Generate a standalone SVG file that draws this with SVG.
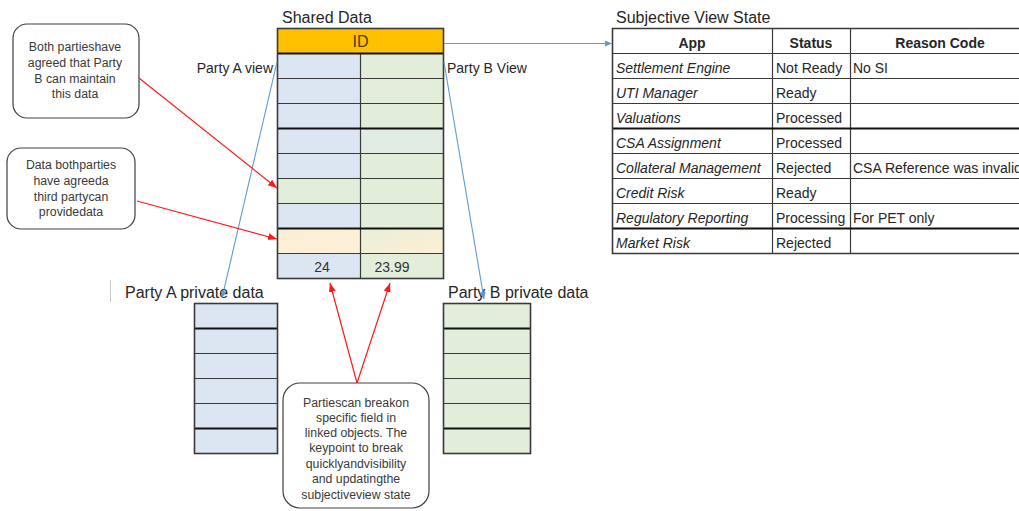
<svg xmlns="http://www.w3.org/2000/svg" width="1019" height="511" viewBox="0 0 1019 511">
<defs>
<style>
text{font-family:"Liberation Sans",Arial,sans-serif;fill:#262626}
.title{font-size:16px}
.lbl{font-size:14px}
.call{font-size:12.3px;fill:#3a3a3a;text-anchor:middle}
.box{fill:#fff;stroke:#404040;stroke-width:1.2}
.blue{fill:#dce6f2}
.green{fill:#e2eed9}
.grid{stroke:#3a3a3a;stroke-width:1.2;fill:none}
.thick{stroke:#111;stroke-width:2.2;fill:none}
.outline{fill:none;stroke:#3a3a3a;stroke-width:1.6}
.th{font-size:14px;font-weight:bold;text-anchor:middle}
.app{font-size:14px;font-style:italic}
.cell{font-size:14px}
.bl{stroke:#5b9bd5;stroke-width:1.1;fill:none}
.rd{stroke:#ff1a1a;stroke-width:1.2;fill:none}
</style>
<marker id="ab" markerWidth="8" markerHeight="8" refX="7" refY="4" orient="auto" markerUnits="userSpaceOnUse"><path d="M0,1 L7,4 L0,7 Z" fill="#5b9bd5"/></marker>
<marker id="ar" markerWidth="10" markerHeight="10" refX="9" refY="5" orient="auto" markerUnits="userSpaceOnUse"><path d="M0,1.5 L9,5 L0,8.5 Z" fill="#ff1a1a"/></marker>
<linearGradient id="yel" x1="0" y1="0" x2="1" y2="1"><stop offset="0" stop-color="#f8eed7"/><stop offset="0.5" stop-color="#fdf0d4"/><stop offset="1" stop-color="#fbefd6"/></linearGradient>
<linearGradient id="yel2" x1="0" y1="0" x2="1" y2="1"><stop offset="0" stop-color="#e8efd8"/><stop offset="0.6" stop-color="#f6efd6"/><stop offset="1" stop-color="#fdf0d4"/></linearGradient>
</defs>

<g id="shared-data">
<text class="title" x="282" y="23">Shared Data</text>
<rect x="277.5" y="28.5" width="166" height="25" fill="#ffc000"/>
<text x="360.5" y="47" font-size="16" text-anchor="middle" style="fill:#4a3c00">ID</text>
<rect class="blue" x="277.5" y="53.5" width="83" height="225"/>
<rect class="green" x="360.5" y="53.5" width="83" height="225"/>
<rect x="360.5" y="128.5" width="83" height="25" fill="#e0ebe2"/>
<rect class="green" x="277.5" y="178.5" width="83" height="25"/>
<rect x="277.5" y="228.5" width="83" height="25" fill="url(#yel)"/>
<rect x="360.5" y="228.5" width="83" height="25" fill="url(#yel2)"/>
<path class="grid" d="M277.5,78.5H443.5M277.5,103.5H443.5M277.5,153.5H443.5M277.5,178.5H443.5M277.5,203.5H443.5M277.5,253.5H443.5M360.5,53.5V278.5"/>
<path class="thick" d="M277.5,53.5H443.5M277.5,128.5H443.5M277.5,228.5H443.5"/>
<rect class="outline" x="277.5" y="28.5" width="166" height="250"/>
<text class="cell" x="322" y="272" text-anchor="middle" style="fill:#333">24</text>
<text class="cell" x="392" y="272" text-anchor="middle" style="fill:#333">23.99</text>
</g>

<g id="party-a-view-label"><text class="lbl" x="273" y="73" text-anchor="end">Party A view</text></g>
<g id="party-b-view-label"><text class="lbl" x="447" y="73">Party B View</text></g>

<g id="subjective-view-state">
<text class="title" x="616" y="23">Subjective View State</text>
<rect x="612.5" y="28.5" width="420" height="225" fill="#fff"/>
<path class="grid" d="M612.5,53.5H1032M612.5,78.5H1032M612.5,103.5H1032M612.5,153.5H1032M612.5,178.5H1032M612.5,203.5H1032M772.5,28.5V253.5M850.5,28.5V253.5"/>
<path class="thick" d="M612.5,128.5H1032M612.5,228.5H1032"/>
<path class="outline" d="M1032,28.5H612.5V253.5H1032"/>
<text class="th" x="692" y="48">App</text>
<text class="th" x="811" y="48">Status</text>
<text class="th" x="940" y="48">Reason Code</text>
<text class="app" x="616" y="73">Settlement Engine</text>
<text class="app" x="616" y="98">UTI Manager</text>
<text class="app" x="616" y="123">Valuations</text>
<text class="app" x="616" y="148">CSA Assignment</text>
<text class="app" x="616" y="173">Collateral Management</text>
<text class="app" x="616" y="198">Credit Risk</text>
<text class="app" x="616" y="223">Regulatory Reporting</text>
<text class="app" x="616" y="248">Market Risk</text>
<text class="cell" x="776" y="73">Not Ready</text>
<text class="cell" x="776" y="98">Ready</text>
<text class="cell" x="776" y="123">Processed</text>
<text class="cell" x="776" y="148">Processed</text>
<text class="cell" x="776" y="173">Rejected</text>
<text class="cell" x="776" y="198">Ready</text>
<text class="cell" x="776" y="223">Processing</text>
<text class="cell" x="776" y="248">Rejected</text>
<text class="cell" x="853" y="73">No SI</text>
<text class="cell" x="853" y="173">CSA Reference was invalid</text>
<text class="cell" x="853" y="223">For PET only</text>
</g>

<g id="party-a-private-data">
<line x1="110.5" y1="280" x2="110.5" y2="302" stroke="#c8c8c8" stroke-width="1"/>
<text class="title" x="125" y="298">Party A private data</text>
<rect class="blue" x="194.5" y="303.5" width="83" height="150"/>
<path class="grid" d="M194.5,353.5H277.5M194.5,378.5H277.5M194.5,403.5H277.5"/>
<path class="thick" d="M194.5,328.5H277.5M194.5,428.5H277.5"/>
<rect class="outline" x="194.5" y="303.5" width="83" height="150"/>
</g>

<g id="party-b-private-data">
<text class="title" x="448" y="298">Party B private data</text>
<rect class="green" x="443.5" y="303.5" width="87" height="150"/>
<path class="grid" d="M443.5,353.5H530.5M443.5,378.5H530.5M443.5,403.5H530.5"/>
<path class="thick" d="M443.5,328.5H530.5M443.5,428.5H530.5"/>
<rect class="outline" x="443.5" y="303.5" width="87" height="150"/>
</g>

<g id="callout-party-b-maintain">
<rect class="box" x="13" y="24" width="126" height="94" rx="14"/>
<text class="call" x="75" y="51">Both partieshave</text>
<text class="call" x="75" y="67">agreed that Party</text>
<text class="call" x="75" y="83">B can maintain</text>
<text class="call" x="75" y="98">this data</text>
</g>

<g id="callout-third-party">
<rect class="box" x="7" y="148" width="128" height="81" rx="14"/>
<text class="call" x="71" y="169">Data bothparties</text>
<text class="call" x="71" y="185">have agreeda</text>
<text class="call" x="71" y="201">third partycan</text>
<text class="call" x="71" y="216">providedata</text>
</g>

<g id="callout-break">
<rect class="box" x="283" y="383" width="146" height="125" rx="17"/>
<text class="call" x="356" y="407">Partiescan breakon</text>
<text class="call" x="356" y="422">specific field in</text>
<text class="call" x="356" y="437">linked objects. The</text>
<text class="call" x="356" y="452">keypoint to  break</text>
<text class="call" x="356" y="468">quicklyandvisibility</text>
<text class="call" x="356" y="483">and updatingthe</text>
<text class="call" x="356" y="499">subjectiveview state</text>
</g>

<g id="connectors">
<line class="bl" x1="444" y1="43.5" x2="612" y2="43.5" marker-end="url(#ab)"/>
<line class="bl" x1="277" y1="62" x2="222" y2="298" marker-end="url(#ab)"/>
<line class="bl" x1="444" y1="62" x2="484" y2="299" marker-end="url(#ab)"/>
<line class="rd" x1="139" y1="78" x2="277" y2="188" marker-end="url(#ar)"/>
<line class="rd" x1="137" y1="201" x2="277" y2="239" marker-end="url(#ar)"/>
<line class="rd" x1="357" y1="383" x2="330" y2="283" marker-end="url(#ar)"/>
<line class="rd" x1="357" y1="383" x2="390" y2="283" marker-end="url(#ar)"/>
</g>
</svg>
